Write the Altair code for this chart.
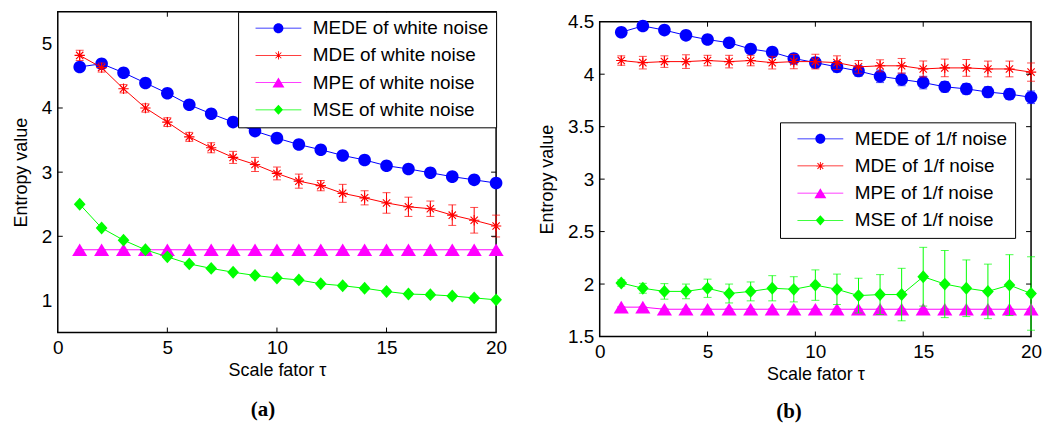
import math

import altair as alt
import pandas as pd

# Scale factor tau shared by both panels
tau = [1, 2, 3, 4, 5, 6, 7, 8, 9, 10, 11, 12, 13, 14, 15, 16, 17, 18, 19, 20]

# ---- (a) white noise ----
white_labels = ["MEDE of white noise", "MDE of white noise",
                "MPE of white noise", "MSE of white noise"]
white_mede = [4.64, 4.69, 4.55, 4.39, 4.23, 4.05, 3.91, 3.78, 3.64, 3.53,
              3.43, 3.35, 3.26, 3.19, 3.10, 3.05, 2.99, 2.93, 2.88, 2.83]
white_mede_err = [0.02, 0.02, 0.02, 0.02, 0.02, 0.02, 0.02, 0.02, 0.02, 0.02,
                  0.02, 0.02, 0.02, 0.02, 0.02, 0.02, 0.02, 0.02, 0.02, 0.02]
white_mde = [4.82, 4.63, 4.30, 4.00, 3.78, 3.55, 3.38, 3.23, 3.12, 2.98,
             2.86, 2.79, 2.67, 2.60, 2.52, 2.46, 2.43, 2.33, 2.25, 2.16]
white_mde_err = [0.08, 0.07, 0.065, 0.065, 0.068, 0.07, 0.078, 0.094, 0.11, 0.10,
                 0.11, 0.08, 0.14, 0.11, 0.16, 0.15, 0.12, 0.16, 0.20, 0.17]
white_mpe = [1.79, 1.79, 1.79, 1.79, 1.79, 1.79, 1.79, 1.79, 1.79, 1.79,
             1.79, 1.79, 1.79, 1.79, 1.79, 1.79, 1.79, 1.79, 1.79, 1.79]
white_mpe_err = [0.005, 0.005, 0.005, 0.005, 0.005, 0.005, 0.005, 0.005, 0.005, 0.005,
                 0.005, 0.005, 0.005, 0.005, 0.005, 0.005, 0.005, 0.005, 0.005, 0.005]
white_mse = [2.50, 2.13, 1.94, 1.79, 1.68, 1.57, 1.50, 1.44, 1.39, 1.35,
             1.32, 1.26, 1.23, 1.19, 1.14, 1.10, 1.09, 1.07, 1.04, 1.01]
white_mse_err = [0.02, 0.02, 0.02, 0.02, 0.02, 0.02, 0.02, 0.02, 0.025, 0.025,
                 0.025, 0.025, 0.03, 0.025, 0.025, 0.025, 0.025, 0.025, 0.03, 0.025]

# ---- (b) 1/f noise ----
pink_labels = ["MEDE of 1/f noise", "MDE of 1/f noise",
               "MPE of 1/f noise", "MSE of 1/f noise"]
pink_mede = [4.40, 4.46, 4.42, 4.37, 4.33, 4.30, 4.24, 4.21, 4.15, 4.11,
             4.07, 4.03, 3.98, 3.95, 3.92, 3.88, 3.86, 3.83, 3.81, 3.78]
pink_mede_err = [0.02, 0.02, 0.02, 0.02, 0.02, 0.02, 0.03, 0.03, 0.04, 0.05,
                 0.05, 0.05, 0.06, 0.06, 0.06, 0.05, 0.05, 0.05, 0.05, 0.06]
pink_mde = [4.13, 4.11, 4.12, 4.12, 4.13, 4.12, 4.13, 4.11, 4.12, 4.12,
            4.11, 4.07, 4.08, 4.08, 4.05, 4.06, 4.06, 4.05, 4.05, 4.02]
pink_mde_err = [0.045, 0.06, 0.055, 0.065, 0.05, 0.06, 0.05, 0.06, 0.068, 0.07,
                0.065, 0.06, 0.057, 0.07, 0.076, 0.084, 0.08, 0.075, 0.075, 0.087]
pink_mpe = [1.78, 1.78, 1.76, 1.76, 1.76, 1.76, 1.76, 1.76, 1.76, 1.76,
            1.76, 1.76, 1.76, 1.76, 1.76, 1.76, 1.76, 1.76, 1.76, 1.76]
pink_mpe_err = [0.005, 0.005, 0.005, 0.005, 0.005, 0.005, 0.005, 0.005, 0.005, 0.005,
                0.005, 0.005, 0.005, 0.005, 0.005, 0.005, 0.005, 0.005, 0.005, 0.005]
pink_mse = [2.01, 1.96, 1.93, 1.93, 1.96, 1.91, 1.93, 1.96, 1.95, 1.99,
            1.95, 1.89, 1.90, 1.90, 2.07, 2.00, 1.96, 1.93, 1.99, 1.91]
pink_mse_err = [0.03, 0.047, 0.074, 0.07, 0.087, 0.09, 0.09, 0.12, 0.12, 0.145,
                0.145, 0.166, 0.19, 0.25, 0.28, 0.32, 0.27, 0.26, 0.29, 0.35]

x_ticks = [0, 5, 10, 15, 20]
white_y_ticks = [1, 2, 3, 4, 5]
pink_y_ticks = [1.5, 2, 2.5, 3, 3.5, 4, 4.5]

colors = ["#0000ff", "#ff0000", "#ff00ff", "#00ff00"]

SANS = "Liberation Sans"
MARK_SIZE = 160  # symbol area; custom paths live in a [-1, 1] box


def poly(points):
    return "M " + " L ".join(f"{x:.3f} {y:.3f}" for x, y in points) + " Z"


def bar(angle_deg, half_len, half_w):
    a = math.radians(angle_deg)
    dx, dy = math.cos(a), math.sin(a)
    nx, ny = -dy, dx
    pts = [(-half_len * dx - half_w * nx, -half_len * dy - half_w * ny),
           (half_len * dx - half_w * nx, half_len * dy - half_w * ny),
           (half_len * dx + half_w * nx, half_len * dy + half_w * ny),
           (-half_len * dx + half_w * nx, -half_len * dy + half_w * ny)]
    return poly(pts)


CIRCLE = "M 1 0 A 1 1 0 1 1 -1 0 A 1 1 0 1 1 1 0 Z"
ASTERISK = " ".join(bar(a, 0.82, 0.09) for a in (0, 45, 90, 135))
TRIANGLE = poly([(0, -1.0), (1.2, 1.0), (-1.2, 1.0)])
DIAMOND = poly([(0, -1.02), (0.93, 0), (0, 1.02), (-0.93, 0)])
markers = [CIRCLE, ASTERISK, TRIANGLE, DIAMOND]

# legend glyph: a short line segment with the marker on top of it
SEGMENT = poly([(-4.6, -0.08), (4.6, -0.08), (4.6, 0.08), (-4.6, 0.08)])
legend_glyphs = [SEGMENT + " " + m for m in markers]


def panel(labels, values, errors, y_domain, y_ticks, width, height, top,
          legend_pos, tag, tag_x, tag_y):
    """One boxed panel; the box spans rows top..height of the view."""
    xscale = alt.Scale(domain=[0, 20], nice=False, zero=False)
    yscale = alt.Scale(domain=y_domain, range=[height, top], nice=False, zero=False)
    xaxis = alt.Axis(values=x_ticks, format="d", title="Scale fator τ",
                     labelFlush=False, labelPadding=6, titlePadding=4)
    yaxis = alt.Axis(values=y_ticks, format="~g", title="Entropy value",
                     labelPadding=6, titlePadding=11)

    def X(field):
        return alt.X(f"{field}:Q", scale=xscale, axis=xaxis)

    def Y(field):
        return alt.Y(f"{field}:Q", scale=yscale, axis=yaxis)

    layers = []
    # plot box
    layers.append(alt.Chart(pd.DataFrame({"box": [0]}))
                  .mark_rect(fillOpacity=0, stroke="black", strokeWidth=1.5)
                  .encode(x=alt.value(0), x2=alt.value(width), y=alt.value(top), y2=alt.value(height)))

    for label, vals, errs, color, marker in zip(labels, values, errors, colors, markers):
        df = pd.DataFrame({"tau": tau, "value": vals})
        df["lo"] = [v - e for v, e in zip(vals, errs)]
        df["hi"] = [v + e for v, e in zip(vals, errs)]
        base = alt.Chart(df)
        layers.append(base.mark_line(color=color, strokeWidth=1).encode(x=X("tau"), y=Y("value")))
        layers.append(base.mark_errorbar(color=color, thickness=1, ticks={"size": 8, "thickness": 1})
                      .encode(x=X("tau"), y=Y("lo"), y2="hi:Q"))
        layers.append(base.mark_point(shape=marker, filled=True, size=MARK_SIZE, color=color,
                                      opacity=1, strokeWidth=0)
                      .encode(x=X("tau"), y=Y("value")))

    # inward ticks on all four sides of the box
    xt = pd.DataFrame({"tau": x_ticks[1:-1]})
    yt = pd.DataFrame({"value": y_ticks[1:-1]})
    tick = dict(color="black", strokeWidth=1)
    layers.append(alt.Chart(xt).mark_rule(**tick).encode(x=X("tau"), y=alt.value(height), y2=alt.value(height - 5)))
    layers.append(alt.Chart(xt).mark_rule(**tick).encode(x=X("tau"), y=alt.value(top), y2=alt.value(top + 5)))
    layers.append(alt.Chart(yt).mark_rule(**tick).encode(y=Y("value"), x=alt.value(0), x2=alt.value(5)))
    layers.append(alt.Chart(yt).mark_rule(**tick).encode(y=Y("value"), x=alt.value(width), x2=alt.value(width - 5)))

    leg = alt.Legend(title=None, strokeColor="black", fillColor="white", padding=7,
                     labelFont=SANS, labelFontSize=19, labelColor="black", labelLimit=400,
                     symbolOffset=24, labelOffset=25, rowPadding=7.3,
                     symbolStrokeWidth=0, **legend_pos)
    legend_layer = (alt.Chart(pd.DataFrame({"series": labels}))
                    .transform_filter("false")
                    .mark_point(filled=True, size=MARK_SIZE, opacity=1)
                    .encode(color=alt.Color("series:N", scale=alt.Scale(domain=labels, range=colors), legend=leg),
                            shape=alt.Shape("series:N", scale=alt.Scale(domain=labels, range=legend_glyphs), legend=leg)))
    layers.append(legend_layer)

    tag_layer = (alt.Chart(pd.DataFrame({"tag": [tag]}))
                 .mark_text(font="Liberation Serif", fontWeight="bold", fontSize=21, color="black",
                            baseline="middle")
                 .encode(text="tag:N", x=alt.value(tag_x), y=alt.value(tag_y)))
    layers.append(tag_layer)

    return (alt.layer(*layers)
            .properties(width=width, height=height,
                        view=alt.ViewBackground(stroke="transparent")))


left = panel(white_labels,
             [white_mede, white_mde, white_mpe, white_mse],
             [white_mede_err, white_mde_err, white_mpe_err, white_mse_err],
             [0.5, 5.5], white_y_ticks, 440, 322, 0,
             dict(orient="top-right", offset=0), "(a)", 206, 400)

right = panel(pink_labels,
              [pink_mede, pink_mde, pink_mpe, pink_mse],
              [pink_mede_err, pink_mde_err, pink_mpe_err, pink_mse_err],
              [1.5, 4.5], pink_y_ticks, 433, 326, 10,
              dict(orient="none", legendX=181, legendY=111), "(b)", 190, 402)

chart = (alt.hconcat(left, right, spacing=30)
         .resolve_scale(color="independent", shape="independent")
         .properties(padding={"left": 11, "top": 9, "right": 0, "bottom": 0})
         .configure_axis(domain=False, ticks=False, tickSize=0, grid=False,
                         labelFont=SANS, labelFontSize=19, labelColor="black",
                         titleFont=SANS, titleFontSize=18, titleFontWeight="normal",
                         titleColor="black"))

chart.save("out.html", embed_options={"renderer": "svg", "actions": False})
